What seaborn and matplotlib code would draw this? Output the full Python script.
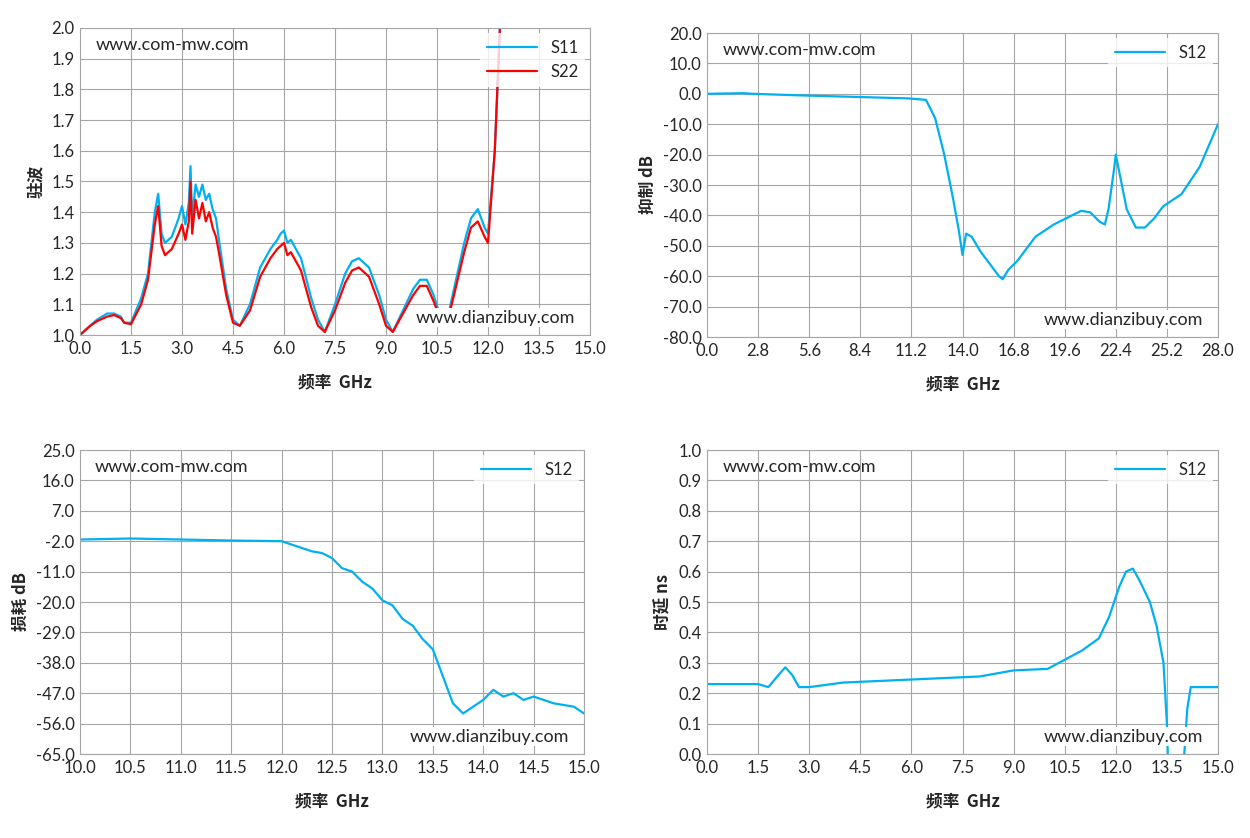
import numpy as np
import pandas as pd
import matplotlib
matplotlib.use("Agg")
import matplotlib.pyplot as plt
import seaborn as sns

# ---- data ----
vswr_f = [0, 0.3, 0.5, 0.8, 1.0, 1.2, 1.3, 1.5, 1.8, 2.0, 2.2, 2.3, 2.4, 2.5, 2.7, 2.9, 3.0, 3.1, 3.2, 3.25, 3.3,
          3.4, 3.5, 3.6, 3.7, 3.8, 3.9, 4.0, 4.1, 4.3, 4.5, 4.7, 5.0, 5.3, 5.6, 5.8, 5.9, 6.0, 6.1, 6.2, 6.5, 6.8,
          7.0, 7.2, 7.5, 7.8, 8.0, 8.2, 8.5, 8.8, 9.0, 9.2, 9.5, 9.8, 10.0, 10.2, 10.4, 10.6, 10.8, 11.0, 11.3,
          11.5, 11.7, 11.9, 12.0, 12.2, 12.35]
s11 = [1.0, 1.03, 1.05, 1.07, 1.07, 1.06, 1.04, 1.04, 1.12, 1.2, 1.4, 1.46, 1.33, 1.3, 1.32, 1.38, 1.42, 1.36,
       1.43, 1.55, 1.38, 1.49, 1.45, 1.49, 1.44, 1.46, 1.41, 1.38, 1.3, 1.15, 1.05, 1.03, 1.1, 1.22, 1.28, 1.31,
       1.33, 1.34, 1.30, 1.31, 1.25, 1.12, 1.05, 1.01, 1.1, 1.2, 1.24, 1.25, 1.22, 1.13, 1.05, 1.01, 1.08, 1.15,
       1.18, 1.18, 1.13, 1.06, 1.05, 1.15, 1.3, 1.38, 1.41, 1.35, 1.33, 1.6, 2.0]
s22 = [1.0, 1.03, 1.045, 1.06, 1.065, 1.055, 1.04, 1.035, 1.1, 1.18, 1.36, 1.42, 1.29, 1.26, 1.28, 1.33, 1.36,
       1.31, 1.37, 1.5, 1.33, 1.44, 1.38, 1.43, 1.37, 1.4, 1.35, 1.32, 1.26, 1.13, 1.04, 1.03, 1.08, 1.19, 1.25,
       1.28, 1.29, 1.3, 1.26, 1.27, 1.21, 1.09, 1.03, 1.01, 1.08, 1.17, 1.21, 1.22, 1.19, 1.1, 1.03, 1.01, 1.07,
       1.13, 1.16, 1.16, 1.11, 1.05, 1.04, 1.13, 1.27, 1.35, 1.37, 1.32, 1.30, 1.6, 2.0]

rej_f = [0, 2, 2.5, 5, 8, 11, 12, 12.5, 13, 13.5, 13.8, 14, 14.2, 14.5, 15, 15.5, 16, 16.2, 16.5, 17, 18, 19, 20,
         20.5, 21, 21.5, 21.8, 22, 22.3, 22.4, 22.6, 23, 23.5, 24, 24.5, 25, 26, 27, 28]
rej = [0, 0.2, 0, -0.5, -1, -1.5, -2, -8, -20, -35, -45, -53, -46, -47, -52, -56, -60, -61, -58, -55, -47, -43, -40,
       -38.5, -39, -42, -43, -38, -25, -20, -26, -38, -44, -44, -41, -37, -33, -24, -10]

il_f = [10, 10.5, 11, 11.5, 12, 12.1, 12.3, 12.4, 12.5, 12.6, 12.7, 12.8, 12.9, 13.0, 13.1, 13.2, 13.3, 13.4, 13.5,
        13.6, 13.7, 13.8, 13.9, 14.0, 14.1, 14.2, 14.3, 14.4, 14.5, 14.7, 14.9, 15.0]
il = [-1.5, -1.2, -1.5, -1.8, -2, -3, -5, -5.5, -7, -10, -11, -14, -16, -19.5, -21, -25, -27, -31, -34,
      -42, -50, -53, -51, -49, -46, -48, -47, -49, -48, -50, -51, -53]

gd_f1 = [0, 1.5, 1.8, 2.1, 2.3, 2.5, 2.7, 3, 4, 5, 6, 7, 8, 9, 10, 10.5, 11, 11.5, 11.8, 12.1, 12.3, 12.5, 12.7,
         13, 13.2, 13.4, 13.5, 13.55]
gd1 = [0.23, 0.23, 0.22, 0.26, 0.285, 0.26, 0.22, 0.22, 0.235, 0.24, 0.245, 0.25, 0.255, 0.275, 0.28, 0.31, 0.34,
       0.38, 0.45, 0.55, 0.6, 0.61, 0.57, 0.5, 0.42, 0.3, 0.1, -0.1]
gd_f2 = [13.95, 14.1, 14.2, 14.5, 15.0]
gd2 = [-0.1, 0.15, 0.22, 0.22, 0.22]

BLUE = "#00B0F0"
RED = "#FF0000"

sns.set_style("white")
plt.rcParams['font.family'] = ['Lato', 'Noto Sans CJK SC', 'DejaVu Sans']
CJK = ['Noto Sans CJK SC', 'DejaVu Sans']

fig = plt.figure(figsize=(12.5, 8.38), dpi=100)
W, H = 1250, 838


def make_ax(x0, y0, x1, y1):
    return fig.add_axes([x0 / W, 1 - y1 / H, (x1 - x0) / W, (y1 - y0) / H])


def style(ax, xt, yt, ylabel):
    ax.set_xlim(xt[0], xt[-1])
    ax.set_ylim(yt[0], yt[-1])
    ax.set_xticks(xt)
    ax.set_yticks(yt)
    ax.set_xticklabels(["{:.1f}".format(v) for v in xt], fontsize=12)
    ax.set_yticklabels(["{:.1f}".format(v) for v in yt], fontsize=12)
    ax.grid(True, color="#A6A6A6", lw=0.8)
    for s in ax.spines.values():
        s.set_color("#A6A6A6")
    ax.tick_params(length=0, pad=4)
    ax.set_xlabel("频率  GHz", fontsize=12, fontweight="bold", labelpad=12, family=CJK)
    ax.set_ylabel(ylabel, fontsize=12, fontweight="bold", family=CJK)
    ax.text(0.03, 0.97, "www.com-mw.com", transform=ax.transAxes, fontsize=13, va="top")
    ax.text(0.97, 0.03, "www.dianzibuy.com", transform=ax.transAxes, fontsize=13, ha="right", va="bottom",
            bbox=dict(fc="white", ec="none", pad=1))
    ax.legend(loc="upper right", frameon=True, facecolor="white", edgecolor="none", fontsize=12,
              handlelength=3, borderaxespad=0.3, fancybox=False)


ax = make_ax(80, 28, 590, 335)
sns.lineplot(x=vswr_f, y=s11, color=BLUE, lw=1.6, label="S11", ax=ax, sort=False)
sns.lineplot(x=vswr_f, y=s22, color=RED, lw=1.6, label="S22", ax=ax, sort=False)
style(ax, np.arange(0, 15.01, 1.5), np.round(np.arange(1.0, 2.01, 0.1), 1), "驻波")

ax = make_ax(707, 33, 1218, 337)
sns.lineplot(x=rej_f, y=rej, color=BLUE, lw=1.6, label="S12", ax=ax, sort=False)
style(ax, np.round(np.arange(0, 28.01, 2.8), 1), np.arange(-80, 20.01, 10), "抑制 dB")

ax = make_ax(80, 450, 584, 754)
sns.lineplot(x=il_f, y=il, color=BLUE, lw=1.6, label="S12", ax=ax, sort=False)
style(ax, np.arange(10, 15.01, 0.5), np.arange(-65, 25.01, 9), "损耗 dB")

ax = make_ax(707, 450, 1218, 754)
sns.lineplot(x=gd_f1, y=gd1, color=BLUE, lw=1.6, label="S12", ax=ax, sort=False)
sns.lineplot(x=gd_f2, y=gd2, color=BLUE, lw=1.6, ax=ax, sort=False)
style(ax, np.arange(0, 15.01, 1.5), np.round(np.arange(0, 1.01, 0.1), 1), "时延 ns")

fig.savefig("out.png", dpi=100)
